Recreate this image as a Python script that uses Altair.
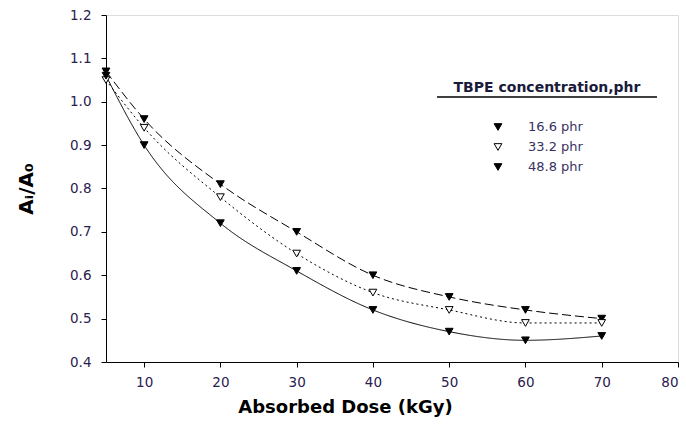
import altair as alt
import pandas as pd

dose = [5, 10, 20, 30, 40, 50, 60, 70]
series_names = ["16.6 phr", "33.2 phr", "48.8 phr"]
vals_166 = [1.07, 0.96, 0.81, 0.70, 0.60, 0.55, 0.52, 0.50]
vals_332 = [1.05, 0.94, 0.78, 0.65, 0.56, 0.52, 0.49, 0.49]
vals_488 = [1.06, 0.90, 0.72, 0.61, 0.52, 0.47, 0.45, 0.46]
x_ticks = [10, 20, 30, 40, 50, 60, 70, 80]
y_ticks = [0.4, 0.5, 0.6, 0.7, 0.8, 0.9, 1.0, 1.1, 1.2]
legend_title = "TBPE concentration,phr"

rows = []
for name, vals in zip(series_names, [vals_166, vals_332, vals_488]):
    for d, v in zip(dose, vals):
        rows.append({"dose": d, "ratio": v, "series": name})
df = pd.DataFrame(rows)
leg_df = pd.DataFrame({"series": series_names})

FONT = "DejaVu Sans"
LABEL_COLOR = "#2a2050"
fill_scale = alt.Scale(domain=series_names, range=["black", "white", "black"])

x = alt.X("dose:Q", scale=alt.Scale(domain=[5, 80], nice=False, zero=False),
          axis=alt.Axis(values=x_ticks, title="Absorbed Dose (kGy)", grid=False,
                        tickSize=5, tickColor="black", domainColor="black",
                        labelFontSize=13.5, labelColor=LABEL_COLOR, labelPadding=8,
                        labelFont=FONT, titleFont=FONT, titleFontSize=18, titleFontWeight="bold",
                        titleColor="black",
                        titleX=239, titleY=36, titleBaseline="top", titleAnchor="start", titleAlign="center"))
y = alt.Y("ratio:Q", scale=alt.Scale(domain=[0.4, 1.2], nice=False, zero=False),
          axis=alt.Axis(values=y_ticks, format=".1f", title="Aᵢ/A₀", grid=False, orient="left",
                        tickSize=5, tickColor="black", domainColor="black",
                        labelFontSize=13.5, labelColor=LABEL_COLOR, labelPadding=10,
                        labelFont=FONT, titleFont=FONT, titleFontSize=20, titleFontWeight="bold",
                        titleColor="black", titlePadding=33))

lines = alt.Chart(df).mark_line(interpolate="monotone", color="black", strokeWidth=1).encode(
    x=x, y=y,
    strokeDash=alt.StrokeDash("series:N", scale=alt.Scale(domain=series_names,
                              range=[[9, 4], [2, 3], [1, 0]]), legend=None),
    detail="series:N",
)

points = alt.Chart(df).mark_point(shape="triangle-down", size=60, stroke="black",
                                  strokeWidth=1, opacity=1, filled=False).encode(
    x=x, y=y,
    fill=alt.Fill("series:N", scale=fill_scale, legend=None),
)

leg_y = alt.Y("series:N", scale=alt.Scale(domain=series_names, range=[112, 152], padding=0), axis=None)

leg_points = alt.Chart(leg_df).mark_point(shape="triangle-down", size=60, stroke="black",
                                          strokeWidth=1, opacity=1, filled=False).encode(
    x=alt.value(392), y=leg_y,
    fill=alt.Fill("series:N", scale=fill_scale, legend=None),
)

leg_labels = alt.Chart(leg_df).mark_text(font=FONT, fontSize=13, color="#3a3060",
                                         align="left", baseline="middle").encode(
    x=alt.value(422), y=leg_y, text="series:N",
)

leg_title = alt.Chart(pd.DataFrame({"t": [legend_title]})).mark_text(
    font=FONT, fontSize=14, fontWeight="bold", color="#1a1a3a", align="center",
    baseline="middle").encode(text="t:N", x=alt.value(441), y=alt.value(73))

underline = alt.Chart(pd.DataFrame({"a": [0]})).mark_rule(color="black", strokeWidth=1.3).encode(
    x=alt.value(331), x2=alt.value(551), y=alt.value(82))

data_layer = alt.layer(lines, points)
legend_layer = alt.layer(leg_points, leg_labels)

chart = alt.layer(data_layer, legend_layer, leg_title, underline).resolve_scale(
    y="independent"
).properties(
    width=572, height=347,
    autosize=alt.AutoSizeParams(type="none"),
    padding={"left": 106, "top": 15, "right": 8, "bottom": 70},
).configure_view(stroke="black", strokeWidth=1.5).configure(background="white")

chart.save("out.html", embed_options={"renderer": "svg", "actions": False})
